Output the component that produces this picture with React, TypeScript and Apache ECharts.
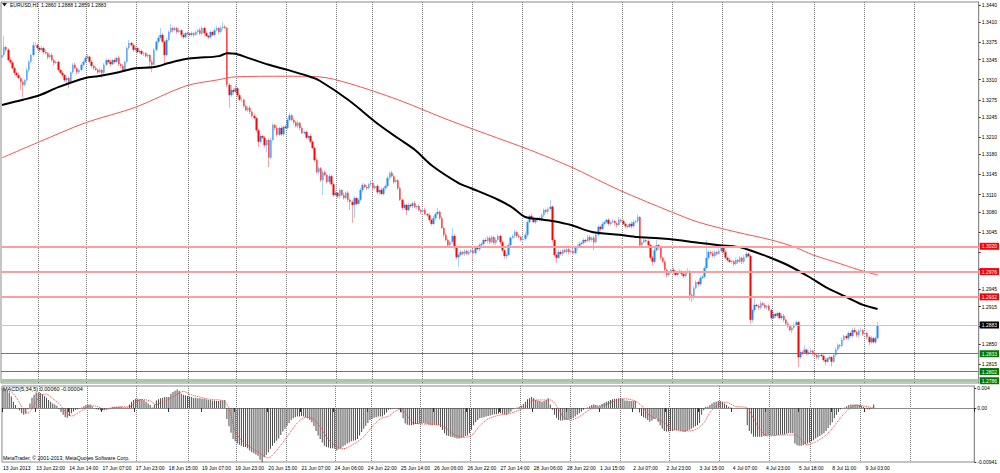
import React, { useEffect, useRef } from "react";
import * as echarts from "echarts";

// ---------- axis labels ----------
const xLabels = ["13 Jun 2013","13 Jun 22:00","14 Jun 14:00","17 Jun 07:00","17 Jun 23:00","18 Jun 15:00","19 Jun 07:00","19 Jun 23:00","20 Jun 15:00","21 Jun 07:00","24 Jun 06:00","24 Jun 22:00","25 Jun 14:00","26 Jun 06:00","26 Jun 22:00","27 Jun 14:00","28 Jun 06:00","28 Jun 22:00","1 Jul 15:00","2 Jul 07:00","2 Jul 23:00","3 Jul 15:00","4 Jul 07:00","4 Jul 23:00","5 Jul 18:00","8 Jul 11:00","9 Jul 03:00"];
const LABEL_EVERY = 16;
const SLOT_COUNT = 469; // bar slots including the empty right shift
const dayGridBars = [18, 41, 65, 90, 113, 137, 161, 178, 202, 226, 250, 274, 298, 322, 346, 370, 390, 414, 438];
const priceTicks = [1.3440,1.3410,1.3375,1.3345,1.3310,1.3275,1.3245,1.3210,1.3180,1.3145,1.3110,1.3080,1.3045,1.3010,1.2980,1.2945,1.2915,1.2880,1.2850,1.2815];
const priceTickLabels = [1.3440,1.3410,1.3375,1.3345,1.3310,1.3275,1.3245,1.3210,1.3180,1.3145,1.3110,1.3080,1.3045,1.2945,1.2915,1.2850,1.2815];
const priceMin = 1.278205;
const priceMax = 1.344521;
const macdTickValues = [0.0035, 0, -0.00941];
const macdTickTexts = ["0.004", "0.00", "-0.00941"];
const macdMin = -0.00941;
const macdMax = 0.00383;

// ---------- levels ----------
const resistanceLevels = [1.3020, 1.2976, 1.2932];
const bidLevel = 1.2883;
const supportLevels = [1.2833, 1.2802];
const bottomSupport = 1.2786;

// ---------- candles (prices in pips: price * 10000) ----------
const firstOpen = 13348;
const closes = [
13353,13367,13362,13344,13340,13330,13322,13318,13313,13306,
13301,13309,13327,13341,13353,13370,13370,13365,13362,13365,
13358,13356,13349,13353,13344,13339,13341,13327,13322,13318,
13309,13313,13306,13323,13336,13330,13323,13327,13336,13341,
13348,13350,13341,13334,13330,13327,13323,13327,13322,13336,
13344,13341,13337,13344,13341,13348,13337,13334,13327,13341,
13365,13374,13370,13362,13365,13358,13360,13355,13356,13351,
13353,13341,13336,13362,13376,13383,13388,13376,13353,13379,
13393,13400,13396,13400,13393,13396,13388,13384,13391,13390,
13388,13391,13388,13393,13396,13390,13400,13391,13386,13384,
13393,13388,13396,13400,13393,13400,13402,13400,13301,13283,
13292,13289,13295,13283,13275,13275,13264,13257,13261,13254,
13247,13243,13222,13202,13212,13209,13196,13205,13174,13205,
13231,13226,13214,13226,13215,13228,13226,13240,13248,13240,
13236,13229,13235,13226,13217,13219,13209,13212,13202,13191,
13170,13149,13156,13135,13149,13144,13132,13142,13128,13109,
13113,13107,13118,13109,13104,13113,13101,13097,13092,13104,
13094,13101,13118,13127,13123,13121,13128,13130,13121,13125,
13114,13118,13111,13121,13125,13139,13148,13142,13132,13135,
13121,13101,13087,13092,13083,13092,13090,13095,13088,13090,
13083,13080,13083,13076,13074,13066,13059,13069,13076,13080,
13069,13052,13040,13031,13022,13028,13038,13017,13001,13005,
13010,13007,13012,13007,13010,13013,13008,13017,13015,13022,
13024,13031,13029,13035,13027,13036,13026,13031,13038,13027,
13013,13003,13005,13022,13035,13038,13045,13038,13036,13031,
13033,13040,13062,13073,13069,13062,13066,13069,13066,13074,
13083,13080,13085,13089,13031,13005,13000,13010,13007,13013,
13010,13015,13010,13012,13008,13017,13020,13024,13026,13031,
13029,13036,13031,13035,13027,13040,13054,13050,13059,13062,
13066,13059,13062,13064,13060,13057,13066,13064,13059,13055,
13054,13059,13055,13062,13064,13071,13022,13027,13031,13029,
13022,13000,12993,13013,13022,13017,13000,12993,12979,12970,
12974,12979,12975,12970,12974,12977,12972,12968,12975,12977,
12935,12930,12947,12958,12954,12965,12967,12982,13000,13010,
13008,13003,13010,13007,13012,13017,13010,13000,12996,12993,
12994,12989,12996,12993,13000,12993,13001,13007,13003,12892,
12909,12918,12916,12913,12921,12918,12914,12916,12909,12895,
12902,12899,12904,12895,12899,12892,12885,12881,12874,12878,
12883,12888,12827,12836,12835,12840,12833,12836,12838,12833,
12831,12827,12831,12829,12822,12819,12825,12827,12819,12831,
12840,12848,12847,12857,12864,12860,12869,12864,12874,12871,
12865,12873,12874,12867,12869,12862,12853,12860,12853,12860,
12883];
const upperWick = [
3,19,2,3,5,2,3,2,4,2, 3,2,4,3,2,6,5,3,2,4, 2,3,2,4,3,2,3,2,1,3, 2,4,3,2,3,4,2,3,2,3,
4,5,2,3,2,3,2,4,2,3, 3,2,4,2,3,2,4,2,3,2, 3,5,2,3,4,2,3,2,3,2, 3,2,4,3,2,4,12,3,2,4,
3,7,2,3,2,4,2,3,2,3, 2,3,2,3,2,4,3,2,3,2, 3,2,4,4,2,3,8,3,2,3, 9,3,6,2,3,4,2,3,2,3,
2,4,2,3,4,2,3,2,3,4, 3,2,4,2,3,2,3,4,4,2, 3,2,4,2,3,2,3,2,4,2, 3,4,3,2,4,3,2,4,2,3,
4,2,3,2,4,2,3,2,3,4, 2,3,4,3,2,3,2,5,3,2, 3,2,4,2,3,4,2,3,2,3, 2,3,2,4,2,3,2,3,4,2,
3,2,3,4,2,3,2,4,3,7, 2,3,2,4,3,2,14,3,2,3, 4,2,3,2,4,3,2,3,2,4, 3,2,4,3,2,3,2,4,3,2,
3,2,4,3,2,3,4,2,3,2, 3,4,3,2,4,2,3,2,3,4, 3,2,3,12,2,3,2,4,3,2, 3,2,4,2,3,2,3,4,2,3,
2,4,3,2,3,4,3,2,4,3, 2,3,2,4,2,3,5,2,3,2, 3,2,4,3,2,5,2,3,4,2, 3,2,3,4,9,2,3,2,3,2,
3,2,4,3,2,3,2,4,3,5, 2,3,4,3,2,4,3,4,31,3, 2,4,3,2,4,3,2,3,2,4, 3,2,4,2,3,2,4,3,2,2,
3,12,2,3,4,2,3,2,3,2, 4,2,3,2,4,3,2,3,2,3, 4,3,2,3,2,8,2,3,4,2, 3,2,3,2,3,4,2,3,2,3,
4,3,2,4,3,2,3,2,4,5, 2,3,5,2,3,2,3,4,2,3, 5];
const lowerWick = [
2,3,4,2,3,2,4,3,2,14, 21,3,2,4,2,3,2,3,4,2, 3,2,4,2,3,4,2,3,2,4, 3,6,11,2,3,2,4,3,2,3,
2,3,2,4,3,2,3,2,9,3, 2,3,4,2,3,2,3,4,2,3, 2,3,2,4,3,2,3,2,4,2, 3,11,13,2,3,2,3,2,18,3,
2,3,4,2,3,2,4,3,2,3, 2,3,4,2,3,2,3,4,2,3, 3,2,3,2,4,2,3,2,4,22, 3,4,2,3,2,4,3,2,3,4,
3,2,4,9,3,2,4,12,16,3, 2,4,3,2,3,4,2,3,2,3, 4,2,3,4,2,3,2,4,3,2, 3,2,4,3,26,2,3,4,2,3,
2,3,4,2,3,2,4,14,31,23, 3,2,3,4,2,3,2,3,4,2, 3,4,2,3,2,3,4,2,3,2, 3,2,4,3,9,2,3,4,2,3,
2,4,3,2,3,4,3,2,3,2, 3,2,4,3,2,3,4,2,3,17, 2,3,4,2,3,2,12,3,2,4, 2,3,2,4,3,2,3,4,2,3,
3,4,5,2,3,2,4,3,2,3, 2,3,4,2,3,2,3,4,2,3, 3,2,3,2,4,3,9,2,3,4, 2,3,4,2,3,2,4,3,2,3,
3,2,4,3,14,2,3,4,2,3, 2,3,4,2,3,4,2,3,2,4, 3,2,4,3,2,3,4,3,2,3, 2,4,6,3,2,3,4,2,3,4,
3,2,4,2,3,2,4,3,2,3, 9,7,3,2,4,3,2,3,2,4, 3,2,4,3,2,3,4,2,3,2, 3,4,2,3,2,4,3,2,3,7,
5,3,2,4,3,2,3,4,2,3, 2,4,3,2,3,4,2,3,2,5, 3,2,17,3,4,2,3,2,4,3, 2,3,4,2,3,6,2,3,8,2,
3,2,4,3,2,3,4,2,3,2, 3,4,2,3,2,4,5,3,2,3, 1];

// ---------- moving averages: [bar, price in pips] ----------
const blackMA = [[0,13266],[10,13275],[18,13283],[27,13297],[40,13313],[46,13316],[56,13323],[64,13330],[73,13332],[80,13339],[88,13346],[94,13348],[104,13351],[108,13356],[112,13355],[118,13348],[128,13336],[137,13327],[147,13316],[152,13309],[166,13275],[181,13231],[190,13208],[198,13188],[206,13161],[219,13130],[225,13121],[238,13101],[245,13087],[251,13071],[258,13067],[264,13064],[273,13057],[283,13045],[296,13040],[305,13036],[315,13034],[324,13031],[334,13026],[344,13022],[353,13019],[358,13014],[368,13001],[377,12987],[387,12967],[396,12947],[406,12930],[413,12918],[420,12911]];
const redMA = [[0,13174],[18,13202],[40,13235],[64,13262],[88,13299],[104,13310],[112,13315],[136,13316],[152,13315],[166,13304],[190,13275],[214,13240],[238,13208],[253,13188],[273,13158],[296,13118],[321,13080],[334,13062],[352,13045],[369,13031],[380,13019],[389,13005],[401,12991],[411,12979],[420,12970]];

// ---------- MACD(5,34,5), units of 0.0001 ----------
const macdHist = [
35,33,30,27,20,11,5,0,-4,-9, -12,-10,-2,8,18,23,27,27,26,24, 21,18,14,11,8,6,4,-2,-7,-12, -16,-17,-14,-9,-6,-3,-2,-1,1,3,
5,6,6,3,0,-2,-3,-4,-4,-3, -1,0,1,2,2,2,2,2,1,1, 1,6,11,14,16,16,15,15,14,11, 8,5,1,6,13,15,17,18,19,19,
19,25,28,30,32,30,25,23,22,21, 20,19,18,18,17,17,16,16,15,14, 14,13,13,12,12,13,13,14,-19,-32, -43,-54,-58,-62,-64,-66,-68,-68,-70,-74,
-77,-79,-81,-83,-90,-94,-86,-82,-77,-71, -66,-61,-57,-53,-47,-41,-36,-31,-26,-21, -18,-16,-15,-15,-14,-15,-16,-18,-21,-25, -32,-40,-48,-54,-60,-66,-68,-69,-70,-70,
-71,-74,-72,-70,-67,-65,-62,-60,-58,-57, -56,-54,-48,-42,-36,-31,-26,-21,-19,-17, -16,-15,-15,-15,-12,-8,-3,-2,-1,-1, -1,-2,-8,-18,-27,-29,-30,-30,-29,-28,
-28,-27,-27,-26,-27,-28,-29,-30,-29,-29, -30,-33,-38,-44,-48,-49,-50,-51,-52,-53, -53,-52,-51,-49,-48,-44,-38,-30,-25,-21, -18,-17,-16,-15,-14,-13,-12,-11,-11,-10,
-9,-10,-11,-12,-9,-6,-2,0,1,2, 4,7,11,15,17,19,17,14,13,12, 11,12,14,17,6,-3,-12,-17,-21,-22, -22,-21,-21,-20,-19,-18,-15,-12,-9,-6,
-3,0,1,3,5,6,5,3,4,7, 9,11,12,14,15,16,16,17,17,16, 13,13,12,12,12,12,0,-8,-14,-16, -18,-21,-24,-22,-19,-18,-24,-30,-36,-40,
-41,-41,-40,-40,-39,-39,-39,-40,-41,-42, -40,-38,-36,-34,-32,-30,-26,-12,-4,2, 2,5,8,10,11,12,12,11,8,5, 2,1,0,0,0,0,0,0,0,-30,
-40,-45,-50,-50,-50,-50,-50,-49,-49,-48, -48,-48,-48,-47,-47,-46,-46,-46,-45,-44, -44,-44,-62,-65,-66,-66,-65,-63,-62,-60, -58,-56,-53,-51,-49,-46,-44,-40,-35,-30,
-25,-18,-12,-7,-2,0,1,3,5,6, 6,6,6,5,4,2,0,-2,-2,-1, 6];
const macdSignal = [[0,30],[4,28],[7,15],[10,-3],[12,-9],[15,5],[18,22],[21,24],[24,16],[27,8],[30,-6],[33,-14],[36,-9],[40,0],[43,4],[46,2],[49,-3],[53,0],[57,2],[61,2],[64,10],[67,15],[71,12],[74,6],[77,11],[81,17],[84,24],[87,29],[90,24],[95,19],[100,15],[106,13],[108,7],[110,-13],[112,-41],[115,-56],[118,-65],[122,-74],[126,-84],[128,-87],[131,-78],[135,-60],[139,-40],[142,-26],[146,-16],[150,-20],[153,-33],[156,-50],[160,-65],[164,-71],[170,-61],[174,-50],[178,-33],[182,-19],[186,-14],[189,-6],[192,-2],[195,-14],[198,-26],[204,-28],[210,-29],[214,-36],[218,-47],[222,-51],[226,-48],[230,-31],[234,-19],[240,-12],[244,-10],[248,-5],[252,2],[256,14],[261,14],[264,14],[267,4],[270,-14],[274,-21],[278,-15],[282,-5],[286,3],[290,5],[295,12],[300,16],[305,12],[308,4],[311,-10],[315,-19],[319,-25],[322,-35],[328,-40],[333,-39],[338,-26],[341,-8],[345,6],[349,10],[353,3],[359,0],[362,-18],[365,-37],[369,-49],[376,-47],[382,-47],[385,-55],[388,-64],[392,-59],[396,-50],[400,-36],[404,-17],[408,-2],[412,5],[416,3],[420,-0.4]];

const FONT = "Liberation Sans, Arial, sans-serif";

export default function App() {
  const ref = useRef<HTMLDivElement>(null);
  useEffect(() => {
    if (!ref.current) return;
    const chart = echarts.init(ref.current, null, { renderer: "svg" });
    const PIP = 10000;
    const cats = Array.from({ length: SLOT_COUNT }, (_, i) => String(i));
    const gridSet = new Set(dayGridBars);
    const ohlc = closes.map((c, i) => {
      const o = i === 0 ? firstOpen : closes[i - 1];
      const hi = Math.max(o, c) + upperWick[i];
      const lo = Math.min(o, c) - lowerWick[i];
      return [o / PIP, c / PIP, lo / PIP, hi / PIP];
    });
    const bodies = ohlc.map(([o, c]) => [o, c, Math.min(o, c), Math.max(o, c)]);
    const lvlLabel = (bg: string, v: number) => ({
      show: true, position: "end", distance: 1, fontSize: 5, fontFamily: FONT,
      color: "#fff", backgroundColor: bg, padding: [1, 2, 1, 2],
      formatter: () => v.toFixed(4),
    });
    const splitLine = {
      show: true,
      interval: (i: number) => gridSet.has(i),
      lineStyle: { type: "dotted", color: "#7a7a7a", width: 1 },
    };
    const option: any = {
      animation: false,
      backgroundColor: "#fff",
      grid: [
        { left: 1, right: 21, top: 2, bottom: 90, show: true, borderColor: "#8a8a8a", borderWidth: 1, backgroundColor: "transparent" },
        { left: 1, right: 21, top: 386, bottom: 11, show: true, borderColor: "#8a8a8a", borderWidth: 1, backgroundColor: "transparent" },
      ],
      xAxis: [
        { type: "category", gridIndex: 0, data: cats, boundaryGap: true,
          axisLine: { show: false }, axisTick: { show: false }, axisLabel: { show: false }, splitLine },
        { type: "category", gridIndex: 1, data: cats, boundaryGap: true,
          axisLine: { show: true, lineStyle: { color: "#8a8a8a" } },
          axisTick: { show: true, length: 4, interval: (i: number) => i % LABEL_EVERY === 0 && i / LABEL_EVERY < xLabels.length, lineStyle: { color: "#333" } },
          axisLabel: { show: true, interval: (i: number) => i % LABEL_EVERY === 0 && i / LABEL_EVERY < xLabels.length,
            formatter: (_v: string, i: number) => xLabels[i / LABEL_EVERY] ?? "",
            align: "left", fontSize: 5, fontFamily: FONT, color: "#000", margin: 3 },
          splitLine },
      ],
      yAxis: [
        { type: "value", gridIndex: 0, position: "right", min: priceMin, max: priceMax,
          axisLine: { show: true, lineStyle: { color: "#8a8a8a" } },
          axisTick: { show: true, length: 2, customValues: priceTicks, lineStyle: { color: "#333" } },
          axisLabel: { show: true, customValues: priceTickLabels, formatter: (v: number) => v.toFixed(4), fontSize: 5, fontFamily: FONT, color: "#000", margin: 3 },
          splitLine: { show: false } },
        { type: "value", gridIndex: 1, position: "right", min: macdMin, max: macdMax,
          axisLine: { show: true, lineStyle: { color: "#8a8a8a" } },
          axisTick: { show: true, length: 2, customValues: macdTickValues, lineStyle: { color: "#333" } },
          axisLabel: { show: true, customValues: macdTickValues,
            formatter: (v: number) => macdTickTexts[macdTickValues.indexOf(v)] ?? "",
            fontSize: 5, fontFamily: FONT, color: "#000", margin: 3 },
          splitLine: { show: false } },
      ],
      series: [
        { type: "candlestick", name: "wicks", xAxisIndex: 0, yAxisIndex: 0, data: ohlc, barWidth: 1,
          itemStyle: { color: "#a9d3ff", color0: "#ffa3a3", borderColor: "#a9d3ff", borderColor0: "#ffa3a3", borderWidth: 1 },
          markLine: {
            silent: true, symbol: ["none", "none"], precision: 4,
            data: [
              ...resistanceLevels.map((v) => ({ yAxis: v, lineStyle: { color: "#ff9c9c", width: 2, type: "solid" }, label: lvlLabel("#ff0000", v) })),
              { yAxis: bidLevel, lineStyle: { color: "#c8c8c8", width: 1, type: "solid" }, label: lvlLabel("#000000", bidLevel) },
              ...supportLevels.map((v) => ({ yAxis: v, lineStyle: { color: "#3f9a3f", width: 1, type: "solid" }, label: lvlLabel("#007a00", v) })),
              { yAxis: bottomSupport, lineStyle: { color: "#9ccf9c", width: 3, type: "solid" }, label: lvlLabel("#007a00", bottomSupport) },
            ],
          } },
        { type: "candlestick", name: "bodies", xAxisIndex: 0, yAxisIndex: 0, data: bodies, barWidth: 2,
          itemStyle: { color: "#1e8cff", color0: "#ff0000", borderColor: "#1e8cff", borderColor0: "#ff0000", borderWidth: 0 } },
        { type: "line", name: "MA slow", xAxisIndex: 0, yAxisIndex: 0, data: redMA.map(([i, v]) => [i, v / PIP]),
          smooth: 0.3, showSymbol: false, symbol: "none", lineStyle: { color: "#ff5050", width: 1 } },
        { type: "line", name: "MA fast", xAxisIndex: 0, yAxisIndex: 0, data: blackMA.map(([i, v]) => [i, v / PIP]),
          smooth: 0.3, showSymbol: false, symbol: "none", lineStyle: { color: "#000", width: 2 } },
        { type: "bar", name: "MACD", xAxisIndex: 1, yAxisIndex: 1, data: macdHist.map((v) => v / PIP), barWidth: 1,
          itemStyle: { color: "#4a4a4a" } },
        { type: "line", name: "Signal", xAxisIndex: 1, yAxisIndex: 1, data: macdSignal.map(([i, v]) => [i, v / PIP]),
          smooth: 0.3, showSymbol: false, symbol: "none", lineStyle: { color: "#ff3c3c", width: 1, type: "dotted" } },
      ],
      graphic: [
        { type: "polygon", shape: { points: [[2, 3], [7, 3], [4.5, 6.5]] }, style: { fill: "#222" } },
        { type: "text", x: 10, y: 2.5, style: { text: "EURUSD,H1", fontSize: 5, fontFamily: FONT, fill: "#000" } },
        { type: "text", x: 41, y: 2.5, style: { text: "1.2860 1.2888 1.2859 1.2883", fontSize: 5, fontFamily: FONT, fill: "#000" } },
        { type: "text", x: 3, y: 386, style: { text: "MACD(5,34,5) 0.00060 -0.00004", fontSize: 5.5, fontFamily: FONT, fill: "#000" } },
        { type: "text", x: 3, y: 455.5, style: { text: "MetaTrader, \u00a9 2001-2013, MetaQuotes Software Corp.", fontSize: 5.2, fontFamily: FONT, fill: "#000" } },
      ],
    };
    chart.setOption(option);
    return () => chart.dispose();
  }, []);
  return <div ref={ref} style={{ position: "absolute", left: 0, top: 0, width: 1000, height: 473, background: "#fff" }} />;
}
